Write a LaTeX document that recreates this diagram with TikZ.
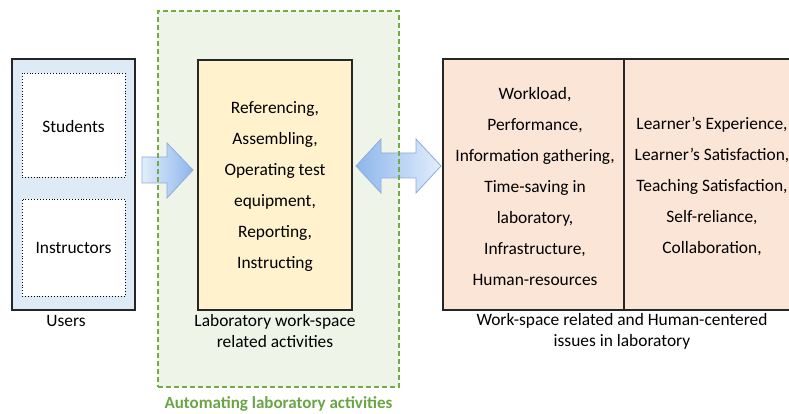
\documentclass[tikz,border=0pt]{standalone}
\usepackage{fontspec}
\setmainfont{Carlito}
\definecolor{usersfill}{HTML}{DEEBF7}
\definecolor{yel}{HTML}{FFF2CC}
\definecolor{pink}{HTML}{FBE5D6}
\definecolor{greenfill}{HTML}{EEF5E8}
\definecolor{greenline}{HTML}{70AD47}
\definecolor{greentext}{HTML}{6AA444}
\definecolor{arrowlight}{HTML}{E2EEFB}
\definecolor{arrowdark}{HTML}{8DB6EC}
\definecolor{arrowline}{HTML}{8FAADC}
\definecolor{boxline}{HTML}{262626}
\begin{document}
\begin{tikzpicture}[x=1pt,y=-1pt,
  box/.style={draw=boxline,line width=1.3pt,inner sep=0pt},
  dotbox/.style={draw=black,dotted,line width=0.9pt,fill=white,inner sep=0pt},
  txt/.style={font=\fontsize{17.4}{31}\selectfont,align=center,inner sep=0pt,text=black},
  lbl/.style={font=\fontsize{17.4}{21}\selectfont,align=center,inner sep=0pt,text=black},
  blockarrow/.style={draw=arrowline,line width=0.8pt}]
\useasboundingbox (0,0) rectangle (789,414);
\clip (0,0) rectangle (789,414);
% green region fill
\fill[greenfill] (158,11) rectangle (399,387);
% users
\node[box,fill=usersfill,minimum width=123pt,minimum height=251pt] (users) at (73.5,184.5) {};
\node[dotbox,minimum width=103pt,minimum height=104pt] (students) at (73.5,125) {};
\node[txt] (studentst) at (73.5,127) {Students};
\node[dotbox,minimum width=103pt,minimum height=97pt] (instructors) at (73.5,247.5) {};
\node[txt] (instructorst) at (73.5,248) {Instructors};
\node[lbl] (userslbl) at (66,321) {Users};
% yellow box
\node[box,fill=yel,minimum width=154pt,minimum height=250pt] (lab) at (275,185) {};
\node[txt] (labt) at (275,187) {Referencing,\\Assembling,\\Operating test\\equipment,\\Reporting,\\Instructing};
\node[lbl] (lablbl) at (275,331.5) {Laboratory work-space\\related activities};
% pink boxes
\node[box,fill=pink,minimum width=181pt,minimum height=251pt] (ws) at (533.5,184.5) {};
\node[box,fill=pink,minimum width=176pt,minimum height=251pt] (hc) at (712,184.5) {};
\node[txt] (wst) at (535,186.5) {Workload,\\Performance,\\Information gathering,\\Time-saving in\\laboratory,\\Infrastructure,\\Human-resources};
\node[txt] (hct) at (712,186.5) {Learner’s Experience,\\Learner’s Satisfaction,\\Teaching Satisfaction,\\Self-reliance,\\Collaboration,};
\node[lbl] (wslbl) at (622,331) {Work-space related and Human-centered\\issues in laboratory};
% arrows
\draw[blockarrow,left color=arrowlight,right color=arrowdark]
  (142,157) -- (167,157) -- (167,143) -- (193,170) -- (167,198) -- (167,183) -- (142,183) -- cycle;
\draw[blockarrow,left color=arrowdark,right color=arrowlight]
  (356,166) -- (381,139) -- (381,153) -- (416,153) -- (416,139) -- (441,166) -- (416,193) -- (416,178) -- (381,178) -- (381,193) -- cycle;
% green dashed border
\node[draw=greenline,dash pattern=on 5pt off 3pt,line width=1.4pt,minimum width=241pt,minimum height=376pt,inner sep=0pt] (auto) at (278.5,199) {};
\node[font=\fontsize{17}{18}\selectfont\bfseries,text=greentext,inner sep=0pt] (autolbl) at (278.5,404) {Automating laboratory activities};
\end{tikzpicture}
\end{document}
